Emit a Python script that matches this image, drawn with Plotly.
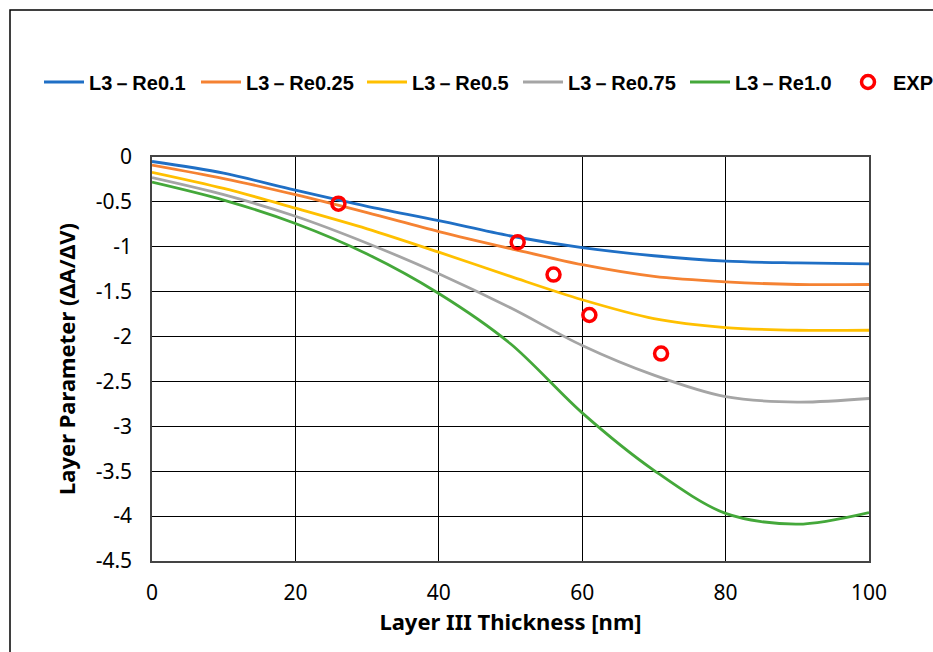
import plotly.graph_objects as go

thickness = [0, 10, 20, 30, 40, 50, 60, 70, 80, 90, 100]
re01 = [-0.05, -0.18, -0.37, -0.55, -0.71, -0.88, -1.01, -1.10, -1.16, -1.18, -1.19]
re025 = [-0.09, -0.24, -0.42, -0.62, -0.83, -1.02, -1.20, -1.33, -1.39, -1.42, -1.42]
re05 = [-0.17, -0.35, -0.57, -0.80, -1.06, -1.33, -1.59, -1.80, -1.90, -1.93, -1.93]
re075 = [-0.23, -0.42, -0.66, -0.96, -1.30, -1.68, -2.10, -2.43, -2.67, -2.73, -2.69]
re10 = [-0.28, -0.48, -0.74, -1.08, -1.52, -2.08, -2.85, -3.49, -3.97, -4.09, -3.96]

exp_x = [26, 51, 56, 61, 71]
exp_y = [-0.52, -0.95, -1.31, -1.76, -2.19]

series_names = ["L3－Re0.1", "L3－Re0.25", "L3－Re0.5", "L3－Re0.75", "L3－Re1.0"]
series_vals = [re01, re025, re05, re075, re10]
colors = ["#1f6fc5", "#f58232", "#ffc000", "#a5a5a5", "#44a83a"]

x_ticks = [0, 20, 40, 60, 80, 100]
y_ticks = [0, -0.5, -1, -1.5, -2, -2.5, -3, -3.5, -4, -4.5]

# layout geometry (pixels in the 933x652 window)
W, H = 933, 652
PL, PR, PT, PB = 152, 869, 157, 561
PW, PH = PR - PL, PB - PT
legend_px = [39, 196, 362, 518, 685, 843]   # left edge of each legend entry
legend_ids = ["legend", "legend2", "legend3", "legend4", "legend5", "legend6"]

fig = go.Figure()
for name, vals, c, lid in zip(series_names, series_vals, colors, legend_ids):
    fig.add_trace(go.Scatter(x=thickness, y=vals, mode="lines", name=name, legend=lid,
                             line=dict(color=c, width=2.8, shape="spline", smoothing=0.9)))
fig.add_trace(go.Scatter(x=exp_x, y=exp_y, mode="markers", name="EXP", legend=legend_ids[-1],
                         marker=dict(symbol="circle-open", size=13, color="#ff0000",
                                     line=dict(width=3.5, color="#ff0000"))))

legfont = dict(family="Liberation Sans, Arial, sans-serif", size=20, color="#000", weight="bold")
legends = {}
for lid, px in zip(legend_ids, legend_px):
    legends[lid] = dict(orientation="h", x=(px - PL) / PW, y=(PB - 82) / PH,
                        xanchor="left", yanchor="middle", font=legfont,
                        itemwidth=40, bgcolor="rgba(0,0,0,0)")

axfont = "Noto Sans, DejaVu Sans, sans-serif"
tickfont = dict(family=axfont, size=21, color="#000")
fig.update_layout(
    width=W, height=H,
    margin=dict(l=PL, r=W - PR, t=PT, b=H - PB, autoexpand=False),
    paper_bgcolor="white", plot_bgcolor="white",
    showlegend=True,
    **legends,
    xaxis=dict(range=[0, 100], tickvals=x_ticks, ticktext=[str(v) for v in x_ticks],
               showgrid=True, gridcolor="#000", gridwidth=1,
               showline=True, linecolor="#444", linewidth=1.5, mirror=True,
               ticks="", tickfont=tickfont, zeroline=False, ticklabelstandoff=12,
               title=dict(text="<b>Layer III Thickness [nm]</b>", standoff=10,
                          font=dict(family=axfont, size=22, color="#000"))),
    yaxis=dict(range=[-4.5, 0], tickvals=y_ticks, ticktext=[f"{v:g}" for v in y_ticks],
               showgrid=True, gridcolor="#000", gridwidth=1,
               showline=True, linecolor="#444", linewidth=1.5, mirror=True,
               ticks="", tickfont=tickfont, zeroline=False, ticklabelstandoff=14,
               title=dict(text="<b>Layer Parameter (ΔA/ΔV)</b>", standoff=14,
                          font=dict(family=axfont, size=22, color="#000"))),
)

# outer chart frame
fig.add_shape(type="rect", xref="paper", yref="paper",
              x0=(10 - PL) / PW, x1=(945 - PL) / PW,
              y0=(PB - 665) / PH, y1=(PB - 10) / PH,
              line=dict(color="#000", width=1.5), fillcolor="rgba(0,0,0,0)", layer="below")

fig.write_html("out.html", config={"displayModeBar": False},
               post_script="document.body.style.margin='0';document.body.style.overflow='hidden';")
